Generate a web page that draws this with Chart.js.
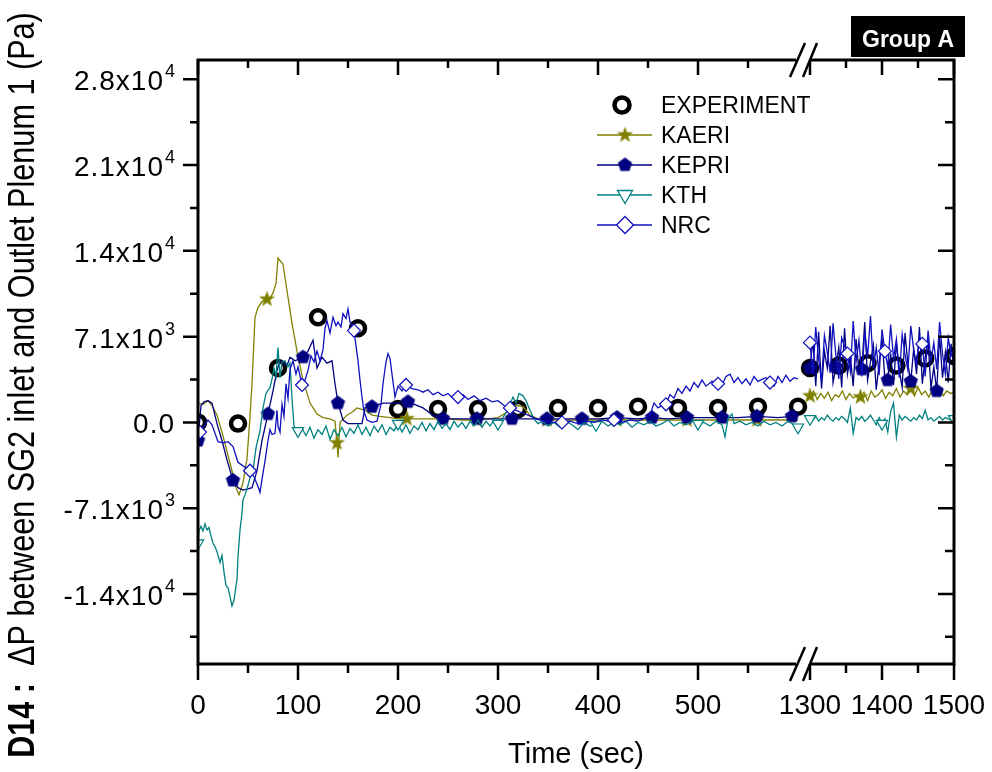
<!DOCTYPE html>
<html>
<head>
<meta charset="utf-8">
<script src="https://cdn.jsdelivr.net/npm/chart.js@4.4.1/dist/chart.umd.min.js"></script>
<style>
html, body { margin: 0; padding: 0; background: #fff; }
canvas { display: block; }
</style>
</head>
<body>
<canvas id="chart" width="992" height="772"></canvas>
<script>
// values in kPa (axis labels are printed in Pa)
const expTimes = [0,40,80,120,160,200,240,280,320,360,400,440,480,520,560,600,1300,1340,1380,1420,1460,1500];
const expValues = [0,-0.1,4.5,8.7,7.8,1.1,1.1,1.1,1.1,1.2,1.2,1.3,1.2,1.2,1.3,1.3,4.5,4.7,4.9,4.7,5.3,5.5];

// [time, value] pairs for the 0-600 s part
const kaeriLeft = [[0,1.6],[5,1.5],[10,1.8],[14,1.4],[19,0.6],[24,-0.8],[29,-2.4],[34,-4.0],[38,-5.4],[41,-6.0],
  [45,-5.0],[49,-3.0],[52,0.5],[54,3.2],[57,8.7],[60,9.5],[64,10.0],[69,10.2],[72,10.3],[75,10.7],
  [78,11.5],[80,13.6],[82,13.4],[85,13.1],[89,10.9],[94,8.2],[99,5.9],[105,3.5],[112,1.6],[119,0.7],
  [125,0.4],[132,0.3],[137,0.1],[139,-1.7],[140,-2.9],[142,0.0],[149,0.6],[155,0.9],[159,1.2],[167,1.0],
  [174,0.6],[182,0.5],[192,0.4],[200,0.3],[209,0.3],[220,0.3],[235,0.3],[250,0.3],[265,0.2],[279,0.2],
  [290,0.3],[300,0.4],[310,0.9],[318,1.4],[325,1.3],[332,0.6],[340,0.3],[349,0.2],[360,0.2],[380,0.2],
  [400,0.2],[419,0.2],[440,0.2],[460,0.2],[489,0.2],[510,0.2],[530,0.2],[559,0.2],[580,0.2],[600,0.2]];

const kepriLeft = [[0,-1.5],[3,1.4],[6,1.7],[10,1.8],[14,1.6],[19,-0.1],[24,-1.5],[29,-3.1],[35,-4.8],[40,-5.4],
  [45,-5.6],[50,-5.5],[54,-5.4],[59,-4.0],[64,-1.5],[70,0.7],[75,2.6],[79,4.3],[82,5.1],[89,4.7],
  [92,5.4],[97,5.1],[105,5.4],[110,5.9],[115,6.8],[119,4.5],[124,5.4],[129,4.9],[134,5.1],[137,3.2],
  [140,1.6],[145,0.2],[150,-0.1],[155,-0.1],[164,-0.1],[167,1.2],[174,1.3],[185,1.6],[199,1.6],[210,1.7],
  [225,1.2],[235,0.6],[245,0.3],[260,0.3],[279,0.3],[300,0.3],[314,0.3],[330,0.3],[349,0.3],[370,0.3],
  [384,0.3],[400,0.3],[419,0.4],[440,0.3],[454,0.4],[470,0.3],[489,0.4],[510,0.4],[524,0.4],[540,0.4],
  [559,0.5],[580,0.4],[594,0.5],[600,0.5]];

const kthLeft = [[0,-10.0],[1,-9.0],[3,-8.6],[5,-9.0],[7,-8.4],[9,-8.9],[11,-8.7],[13,-9.4],[15,-10.0],[17,-10.3],
  [19,-10.7],[22,-11.6],[24,-11.0],[26,-12.4],[28,-13.5],[30,-13.7],[32,-14.4],[34,-15.2],[36,-14.7],[39,-13.0],
  [40,-11.1],[42,-8.9],[44,-7.5],[45,-6.4],[47,-6.0],[49,-5.5],[52,-4.6],[55,-4.0],[58,-2.1],[62,-0.7],
  [65,1.2],[68,2.4],[72,2.9],[74,3.6],[76,4.5],[78,3.8],[80,6.2],[82,3.7],[84,5.0],[87,5.1],
  [90,4.6],[92,4.9],[94,2.0],[96,-0.3],[98,-0.6],
  [100,-0.7],[104,-0.5],[108,-1.1],[112,-0.4],[116,-1.3],[120,-0.6],[124,-1.0],[128,-0.3],[132,-1.4],[136,-0.6],
  [140,-1.1],[144,-0.4],[148,-1.2],[152,-0.5],[156,-0.9],[160,-0.2],[164,-1.0],[168,-0.4],[172,-1.1],[176,-0.3],
  [180,-0.8],[184,-0.2],[188,-1.0],[192,-0.4],[196,-0.7],[200,-0.1],[204,-0.8],[208,-0.2],[212,-0.9],[216,-0.3],
  [220,-0.6],[224,0.0],[228,-0.7],[232,-0.1],[236,-0.6],[240,0.1],[244,-0.5],[248,-0.1],[252,-0.6],[256,0.1],
  [260,-0.4],[264,0.0],[268,-0.5],[272,0.1],[276,-0.3],[280,0.2],[284,-0.4],[288,0.1],[292,-0.3],[296,0.2],
  [300,-0.1],[304,0.3],[308,0.8],[312,1.5],[315,2.1],[318,1.6],[321,2.4],[325,2.2],[328,1.8],[332,1.0],
  [336,0.3],[340,-0.1],[344,0.1],[350,-0.3],[356,0.0],[362,-0.4],[368,0.1],[374,-0.2],[380,-0.6],[386,0.0],
  [392,-0.3],[398,-0.2],[404,0.1],[410,-0.3],[416,0.0],[422,-0.2],[428,0.1],[434,-0.4],[440,0.0],[446,-0.2],
  [452,0.1],[458,-0.3],[464,-0.1],[470,0.2],[476,-0.3],[482,0.0],[488,-0.2],[494,0.1],[500,-0.1],[506,0.0],
  [512,-0.3],[518,0.1],[524,-0.2],[527,-1.2],[530,0.3],[534,0.7],[536,-0.1],[542,0.1],[548,-0.2],[554,0.0],
  [560,-0.3],[566,0.1],[572,-0.2],[578,0.0],[584,-0.3],[590,0.1],[596,-0.2],[600,-0.4]];

const nrcLeft = [[0,-0.5],[2,-0.8],[6,-0.3],[10,0.2],[14,-0.2],[20,-1.6],[25,-1.7],[30,-1.6],[35,-2.0],[40,-3.3],
  [45,-3.6],[52,-4.0],[56,-4.5],[60,-5.3],[62,-5.8],[64,-4.7],[67,-3.2],[70,-1.5],[72,-0.6],[74,-1.0],
  [77,-0.9],[79,1.0],[80,-0.3],[82,-0.8],[84,1.5],[86,0.5],[88,3.2],[90,2.0],[92,4.4],[95,5.1],
  [98,4.0],[100,4.6],[104,3.1],[107,3.5],[110,4.3],[113,5.5],[116,5.0],[119,5.9],[122,5.1],[125,6.0],
  [127,7.8],[129,8.4],[132,7.4],[135,8.7],[138,8.0],[140,8.3],[143,7.9],[145,9.0],[148,8.6],[150,9.4],
  [152,8.3],[154,8.1],[156,7.6],[160,5.1],[162,3.5],[164,2.1],[166,0.9],[169,0.2],[174,0.0],[179,0.1],
  [183,1.5],[185,3.2],[188,5.0],[190,5.7],[192,5.3],[194,4.0],[197,2.1],[200,3.0],[204,2.6],[208,3.1],
  [214,2.8],[220,2.7],[225,2.5],[230,2.7],[235,2.3],[240,2.5],[245,2.2],[250,2.4],[255,2.0],[260,2.1],
  [265,2.3],[270,1.9],[276,2.2],[282,1.8],[288,2.0],[294,1.7],[300,1.8],[306,1.4],[312,1.2],[318,1.0],
  [324,0.8],[330,0.6],[338,0.3],[346,0.1],[356,0.0],[364,0.0],[372,0.1],[380,-0.1],[388,0.1],[396,0.0],
  [404,0.2],[410,0.1],[416,0.2],[424,0.0],[432,0.2],[440,0.1],[446,0.3],[452,0.6],[456,1.6],[460,1.2],
  [464,1.4],[468,1.5],[472,2.3],[476,2.0],[480,2.8],[484,2.4],[488,3.0],[492,2.6],[496,3.3],[500,2.9],
  [504,3.5],[508,3.0],[514,3.4],[520,3.2],[524,3.1],[528,3.8],[532,4.0],[536,3.3],[540,3.7],[544,3.2],
  [548,3.6],[552,3.1],[556,3.8],[560,3.4],[565,3.6],[568,3.7],[572,3.3],[576,3.0],[580,3.8],[584,3.3],
  [588,3.9],[592,3.4],[596,3.7],[600,3.6]];

// 1300-1500 s part
const tRight4 = [1300,1304,1308,1312,1316,1320,1324,1328,1332,1336,1340,1344,1348,1352,1356,1360,1364,1368,1372,1376,
  1380,1384,1388,1392,1396,1400,1404,1408,1412,1416,1420,1424,1428,1432,1436,1440,1444,1448,1452,1456,
  1460,1464,1468,1472,1476,1480,1484,1488,1492,1496,1500];
const tRight5 = [1300,1305,1310,1315,1320,1325,1330,1335,1340,1345,1350,1355,1360,1365,1370,1375,1380,1385,1390,1395,
  1400,1405,1410,1415,1420,1425,1430,1435,1440,1445,1450,1455,1460,1465,1470,1475,1480,1485,1490,1495,1500];
const kaeriRight = [2.2,2.6,1.9,2.4,2.0,2.5,1.8,2.3,2.1,2.6,1.9,2.4,2.0,2.2,2.1,2.5,1.8,2.6,2.1,2.3,
  2.7,2.0,2.5,2.2,2.8,2.1,2.6,2.3,2.8,2.2,2.9,2.3,2.6,2.1,2.7,2.4,2.8,2.2,2.6,2.4,2.5];
const kepriRight = [4.5,6.8,3.0,7.5,2.8,5.9,4.5,8.0,3.3,4.6,6.2,2.9,7.8,4.0,5.5,3.0,6.9,4.2,4.4,8.3,
  3.5,5.0,6.4,2.7,4.9,7.0,3.6,3.5,5.7,3.1,6.6,4.3,2.9,7.4,4.8,3.4,6.1,4.0,7.9,3.2,
  5.4,6.7,2.8,4.6,2.6,7.2,3.7,5.8,3.3,6.5,4.4];
const kthRight = [0.3,0.2,0.5,0.1,0.4,0.2,0.6,0.3,0.1,0.4,0.2,0.5,0.3,0.0,1.2,-0.9,0.4,0.2,0.5,0.1,
  0.3,0.6,0.2,-0.2,0.4,-0.1,0.3,-0.8,0.9,1.6,-1.2,0.6,0.2,0.5,0.3,0.1,0.4,0.2,0.6,0.3,
  1.0,0.2,0.4,0.1,0.3,0.5,0.2,0.4,0.3,0.2,0.3];
const nrcRight = [6.6,4.0,7.9,5.2,3.4,7.2,5.8,4.1,8.2,5.5,3.6,7.0,6.3,5.7,4.2,8.4,5.0,6.8,3.8,7.5,
  5.4,8.8,4.5,6.2,3.9,7.7,5.9,4.6,8.1,5.3,6.9,3.7,7.3,5.6,4.3,8.0,6.0,4.8,7.1,6.5,
  3.8,7.6,5.1,6.6,4.4,8.3,5.7,4.0,7.0,5.5,6.1];

// times where a symbol is drawn on each curve
const kaeriMarks = [69,139,209,279,349,419,489,559,1300,1370,1440];
const kepriMarks = [0,35,70,105,140,174,210,245,279,314,349,384,419,454,489,524,559,594,1300,1336,1372,1408,1440,1476];
const kthMarks = [0,100,200,300,398,500,600,1300,1400,1500];
const nrcMarks = [2,52,104,156,208,260,312,364,416,468,520,572,1300,1352,1404,1456];

const yMajor = [-14.2,-7.1,0,7.1,14.2,21.3,28.4];
const yMinor = [-17.75,-10.65,-3.55,3.55,10.65,17.75,24.85];
const xMajor = [0,100,200,300,400,500,1300,1400,1500];
const xMinor = [50,150,250,350,450,550,1350,1450];

const seriesNames = ["EXPERIMENT","KAERI","KEPRI","KTH","NRC"];
const colors = { kaeri: "#808000", kepri: "#000080", kth: "#008080", nrc: "#1010c0" };

const FONT = '"Liberation Sans", Arial, sans-serif';

// broken time axis: 0-600 s at full scale, then 1300-1500 s compressed
function toAxis(t){
    return t <= 600 ? t : 612 + (t - 1300) * 0.72;
}

function build(pairs, times, values){
    const out = pairs.map(p => ({ x: toAxis(p[0]), y: p[1], t: p[0] }));
    out.push({ x: 606, y: null, t: null });
    times.forEach((t, i) => out.push({ x: toAxis(t), y: values[i], t: t }));
    return out;
}

function markRadius(list, r){
    return function(c){
        return c.raw && list.includes(c.raw.t) ? r : 0;
    };
}

function shapeCanvas(color, R, r, n){
    const c = document.createElement("canvas");
    c.width = c.height = Math.ceil(2 * R + 2);
    const g = c.getContext("2d");
    g.translate(c.width / 2, c.height / 2);
    g.beginPath();
    const k = r ? n * 2 : n;
    for(let i = 0; i < k; i++){
        const rad = (r && i % 2) ? r : R;
        const a = -Math.PI / 2 + i * 2 * Math.PI / k;
        g.lineTo(rad * Math.cos(a), rad * Math.sin(a));
    }
    g.closePath();
    g.fillStyle = color;
    g.fill();
    return c;
}

const starImg = shapeCanvas(colors.kaeri, 8.5, 3.4, 5);
const pentImg = shapeCanvas(colors.kepri, 7.5, 0, 5);

function sciParts(v){
    const pa = v * 1000;
    if(Math.abs(pa) < 1e-6) return ["0.0", null];
    const e = Math.floor(Math.log10(Math.abs(pa)));
    return [(pa / Math.pow(10, e)).toFixed(1) + "x10", String(e)];
}

function legendMarker(ctx, kind, x, y){
    ctx.save();
    if(kind === "circle"){
        ctx.beginPath(); ctx.arc(x, y, 7.5, 0, Math.PI * 2);
        ctx.fillStyle = "#fff"; ctx.fill();
        ctx.lineWidth = 4.5; ctx.strokeStyle = "#000"; ctx.stroke();
    }else if(kind === "star"){
        ctx.drawImage(starImg, x - starImg.width / 2, y - starImg.height / 2);
    }else if(kind === "pent"){
        ctx.drawImage(pentImg, x - pentImg.width / 2, y - pentImg.height / 2);
    }else if(kind === "tri"){
        ctx.beginPath();
        ctx.moveTo(x - 7.5, y - 4.5); ctx.lineTo(x + 7.5, y - 4.5); ctx.lineTo(x, y + 8.5); ctx.closePath();
        ctx.fillStyle = "#fff"; ctx.fill();
        ctx.lineWidth = 1.3; ctx.strokeStyle = colors.kth; ctx.stroke();
    }else if(kind === "dia"){
        ctx.beginPath();
        ctx.moveTo(x - 8.5, y); ctx.lineTo(x, y - 8.5); ctx.lineTo(x + 8.5, y); ctx.lineTo(x, y + 8.5); ctx.closePath();
        ctx.fillStyle = "#fff"; ctx.fill();
        ctx.lineWidth = 1.3; ctx.strokeStyle = colors.nrc; ctx.stroke();
    }
    ctx.restore();
}

const decorPlugin = {
    id: "decor",
    afterDraw(chart){
        const ctx = chart.ctx;
        const a = chart.chartArea;
        const xs = chart.scales.x;
        const ys = chart.scales.y;
        ctx.save();

        // frame
        ctx.strokeStyle = "#000";
        ctx.lineWidth = 3;
        ctx.strokeRect(a.left, a.top, a.right - a.left, a.bottom - a.top);

        // axis break
        const bx = xs.getPixelForValue(606);
        ctx.fillStyle = "#fff";
        ctx.fillRect(bx - 8, a.top - 3, 14, 6);
        ctx.fillRect(bx - 8, a.bottom - 3, 14, 6);
        ctx.lineWidth = 2.5;
        ctx.beginPath();
        [a.top, a.bottom].forEach(e => {
            ctx.moveTo(bx - 14, e + 17); ctx.lineTo(bx + 1, e - 17);
            ctx.moveTo(bx - 1, e + 17); ctx.lineTo(bx + 13, e - 17);
        });
        ctx.stroke();

        // ticks
        ctx.lineWidth = 2.5;
        ctx.beginPath();
        yMajor.forEach(v => {
            const y = ys.getPixelForValue(v);
            ctx.moveTo(a.left - 15, y); ctx.lineTo(a.left, y);
            ctx.moveTo(a.right, y); ctx.lineTo(a.right - 16, y);
        });
        yMinor.forEach(v => {
            const y = ys.getPixelForValue(v);
            ctx.moveTo(a.left - 8, y); ctx.lineTo(a.left, y);
            ctx.moveTo(a.right, y); ctx.lineTo(a.right - 9, y);
        });
        xMajor.forEach(t => {
            const x = xs.getPixelForValue(toAxis(t));
            ctx.moveTo(x, a.bottom); ctx.lineTo(x, a.bottom + 16);
            ctx.moveTo(x, a.top); ctx.lineTo(x, a.top + 15);
        });
        xMinor.forEach(t => {
            const x = xs.getPixelForValue(toAxis(t));
            ctx.moveTo(x, a.bottom); ctx.lineTo(x, a.bottom + 9);
            ctx.moveTo(x, a.top); ctx.lineTo(x, a.top + 8);
        });
        ctx.stroke();

        // y tick labels
        ctx.fillStyle = "#000";
        ctx.textBaseline = "alphabetic";
        yMajor.forEach(v => {
            const y = ys.getPixelForValue(v);
            const parts = sciParts(v);
            let right = 175;
            if(parts[1] !== null){
                ctx.font = "18px " + FONT;
                ctx.textAlign = "right";
                const ew = ctx.measureText(parts[1]).width;
                ctx.fillText(parts[1], right, y - 2);
                right -= ew + 1;
            }
            ctx.font = "28px " + FONT;
            ctx.letterSpacing = "1px";
            ctx.textAlign = "right";
            ctx.fillText(parts[0], right, y + 11);
            ctx.letterSpacing = "0px";
        });

        // x tick labels
        ctx.font = "28px " + FONT;
        ctx.textAlign = "center";
        xMajor.forEach(t => {
            ctx.fillText(String(t), xs.getPixelForValue(toAxis(t)), 714);
        });

        // x title
        ctx.font = "29px " + FONT;
        ctx.fillText("Time (sec)", 576, 763);

        // y title
        ctx.save();
        ctx.translate(34, 385);
        ctx.rotate(-Math.PI / 2);
        ctx.scale(1, 1.18);
        const head = "D14 :";
        const rest = "  \u0394P between SG2 inlet and Outlet Plenum 1 (Pa)";
        let fs = 26;
        ctx.font = "bold " + fs + "px " + FONT;
        let w1 = ctx.measureText(head).width;
        ctx.font = fs + "px " + FONT;
        let w2 = ctx.measureText(rest).width;
        fs = fs * 746 / (w1 + w2);
        ctx.font = "bold " + fs.toFixed(2) + "px " + FONT;
        w1 = ctx.measureText(head).width;
        ctx.font = fs.toFixed(2) + "px " + FONT;
        w2 = ctx.measureText(rest).width;
        const x0 = -(w1 + w2) / 2;
        ctx.textAlign = "left";
        ctx.font = "bold " + fs.toFixed(2) + "px " + FONT;
        ctx.fillText(head, x0, 0);
        ctx.font = fs.toFixed(2) + "px " + FONT;
        ctx.fillText(rest, x0 + w1, 0);
        ctx.restore();

        // legend
        const kinds = ["circle","star","pent","tri","dia"];
        const lineCols = [null, colors.kaeri, colors.kepri, colors.kth, colors.nrc];
        seriesNames.forEach((name, i) => {
            const y = 105 + i * 30;
            if(lineCols[i]){
                ctx.strokeStyle = lineCols[i];
                ctx.lineWidth = 1.5;
                ctx.beginPath(); ctx.moveTo(597, y); ctx.lineTo(652, y); ctx.stroke();
            }
            legendMarker(ctx, kinds[i], i === 0 ? 622 : 625, y);
            ctx.fillStyle = "#000";
            ctx.font = "23px " + FONT;
            ctx.textAlign = "left";
            ctx.fillText(name, 661, y + 8);
        });

        // group tag
        ctx.fillStyle = "#000";
        ctx.fillRect(851, 16, 114, 41);
        ctx.fillStyle = "#fff";
        ctx.font = "bold 23px " + FONT;
        ctx.textAlign = "center";
        ctx.fillText("Group A", 908, 47);

        ctx.restore();
    }
};

const expData = expTimes.map((t, i) => ({ x: toAxis(t), y: expValues[i], t: t }));

new Chart(document.getElementById("chart"), {
    type: "line",
    data: {
        datasets: [
            {
                label: seriesNames[0],
                data: expData,
                showLine: false,
                pointStyle: "circle",
                pointRadius: 7,
                pointBorderWidth: 4.5,
                pointBorderColor: "#000",
                pointBackgroundColor: "#fff",
                order: 10
            },
            {
                label: seriesNames[1],
                data: build(kaeriLeft, tRight5, kaeriRight),
                borderColor: colors.kaeri,
                borderWidth: 1.3,
                pointStyle: starImg,
                pointRadius: markRadius(kaeriMarks, 6),
                order: 4
            },
            {
                label: seriesNames[2],
                data: build(kepriLeft, tRight4, kepriRight),
                borderColor: colors.kepri,
                borderWidth: 1.3,
                pointStyle: pentImg,
                pointRadius: markRadius(kepriMarks, 6),
                order: 3
            },
            {
                label: seriesNames[3],
                data: build(kthLeft, tRight4, kthRight),
                borderColor: colors.kth,
                borderWidth: 1.3,
                pointStyle: "triangle",
                rotation: 180,
                pointRadius: markRadius(kthMarks, 6.5),
                pointBorderColor: colors.kth,
                pointBackgroundColor: "#fff",
                pointBorderWidth: 1.2,
                order: 2
            },
            {
                label: seriesNames[4],
                data: build(nrcLeft, tRight4, nrcRight),
                borderColor: colors.nrc,
                borderWidth: 1.3,
                pointStyle: "rectRot",
                pointRadius: markRadius(nrcMarks, 6.5),
                pointBorderColor: colors.nrc,
                pointBackgroundColor: "#fff",
                pointBorderWidth: 1.2,
                order: 1
            }
        ]
    },
    options: {
        responsive: false,
        animation: false,
        devicePixelRatio: 1,
        events: [],
        spanGaps: false,
        layout: { padding: { left: 198, right: 38, top: 60, bottom: 108 } },
        elements: { line: { tension: 0 } },
        scales: {
            x: { type: "linear", min: 0, max: 756, display: false },
            y: { type: "linear", min: -20, max: 30, display: false }
        },
        plugins: {
            legend: { display: false },
            tooltip: { enabled: false }
        }
    },
    plugins: [decorPlugin]
});
</script>
</body>
</html>
